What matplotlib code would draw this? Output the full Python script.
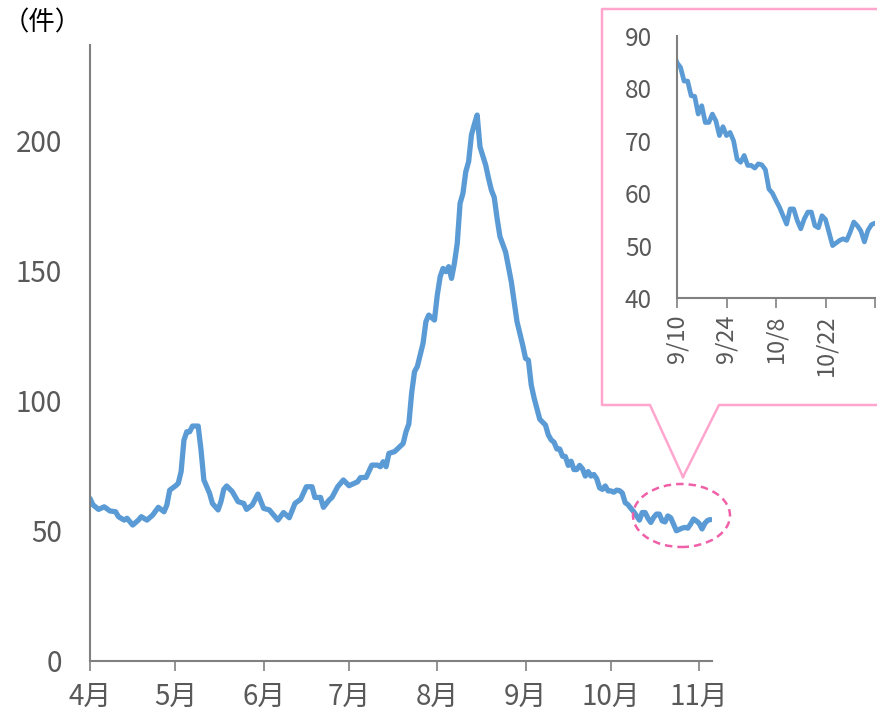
import matplotlib
matplotlib.use("Agg")
import matplotlib.pyplot as plt
from matplotlib.lines import Line2D
from matplotlib.patches import Ellipse

plt.rcParams['font.family'] = ['Noto Sans CJK JP', 'DejaVu Sans']

# days counted from 4/1, daily counts (件)
days = [0, 1, 3, 5, 7, 9, 10, 12, 13, 15, 17, 18, 20, 22, 24, 26, 27, 28, 30, 31,
        32, 33, 34, 35, 36, 38, 39, 40, 42, 43, 45, 46, 47, 48, 50, 52, 54, 55, 57, 59,
        61, 63, 66, 68, 70, 72, 74, 76, 78, 79, 81, 82, 84, 85, 87, 89, 91, 94, 95, 97,
        99, 101, 102, 103, 104, 105, 107, 110, 111, 112, 113, 114, 115, 117, 118, 119, 121, 122, 123, 124,
        125, 126, 127, 128, 129, 130, 131, 132, 133, 134, 135, 136, 137, 139, 140, 141, 142, 143, 144, 145,
        146, 148, 150, 152, 153, 154, 155, 156, 158, 160, 161]
values = [62.4, 60.0, 58.2, 59.2, 57.6, 57.3, 55.4, 54.1, 54.8, 52.2, 54.1, 55.4, 54.1, 56.0, 59.0, 57.3, 59.9, 65.6, 67.2, 68.2,
          72.7, 84.8, 88.0, 88.0, 90.2, 90.2, 81.0, 69.5, 64.4, 60.5, 58.0, 61.2, 65.9, 67.2, 65.0, 61.2, 60.5, 58.2, 59.9, 64.1,
          58.6, 58.0, 54.1, 57.0, 55.0, 60.5, 62.1, 66.9, 66.9, 62.8, 62.8, 59.0, 61.8, 62.8, 66.9, 69.5, 67.3, 68.8, 70.4, 70.5,
          75.2, 75.2, 74.6, 76.5, 74.6, 79.7, 80.4, 83.5, 88.0, 91.0, 103.0, 111.1, 113.1, 122.0, 130.3, 132.8, 130.9, 140.5, 147.5, 150.7,
          149.5, 151.4, 146.9, 152.6, 160.3, 175.7, 179.5, 187.8, 191.7, 202.0, 206.0, 209.6, 197.4, 190.4, 185.3, 180.8, 178.0, 170.0, 163.0, 160.0,
          157.0, 145.6, 130.3, 121.3, 116.2, 115.5, 106.0, 101.0, 92.8, 90.6, 86.8]

# 9/10 (day 162) onward
recent = [84.9, 84.0, 81.4, 81.4, 78.6, 78.5, 75.1, 76.7, 73.5, 73.5,
          75.1, 73.8, 71.0, 72.7, 71.0, 71.6, 70.0, 66.5, 65.9, 67.2,
          65.3, 65.3, 64.8, 65.6, 65.4, 64.5, 60.8, 60.0, 58.6, 57.3,
          55.7, 54.1, 57.0, 57.0, 54.8, 53.2, 55.1, 56.4, 56.4, 53.8,
          53.4, 55.7, 55.0, 52.5, 50.0, 50.5, 51.0, 51.3, 51.0, 52.6,
          54.5, 53.8, 52.8, 50.7, 52.9, 54.0, 54.3]
days = days + [162 + i for i in range(len(recent))]
values = values + recent

month_ticks = [0, 30, 61, 91, 122, 153, 183, 214]
month_labels = ['4月', '5月', '6月', '7月', '8月', '9月', '10月', '11月']
inset_ticks = [162, 176, 190, 204, 218]
inset_labels = ['9/10', '9/24', '10/8', '10/22', '']

line_color = '#5B9BD5'
axis_color = '#808080'
text_color = '#595959'

W, H = 877, 718
fig = plt.figure(figsize=(W / 100, H / 100), dpi=100)

ax = fig.add_axes([90 / W, 57 / H, 622 / W, 616 / H])
ax.plot(days, values, color=line_color, lw=3.8, solid_joinstyle='round', solid_capstyle='round')
ax.set_xlim(0, 218.5)
ax.set_ylim(0, 236.5)
ax.set_yticks([0, 50, 100, 150, 200])
ax.set_xticks(month_ticks)
ax.set_xticklabels(month_labels)
for s in ['top', 'right']:
    ax.spines[s].set_visible(False)
for s in ['left', 'bottom']:
    ax.spines[s].set_color(axis_color)
    ax.spines[s].set_linewidth(1.5)
ax.tick_params(axis='y', length=0, pad=20, labelsize=20, labelcolor=text_color)
ax.tick_params(axis='x', length=7, width=1.2, color=axis_color, pad=8,
               labelsize=20, labelcolor=text_color)

fig.text(3 / W, 1 - 23 / H, '（件）', fontsize=19, color='black', va='center', ha='left')

# inset
ax2 = fig.add_axes([677 / W, (H - 298) / H, 198 / W, 262 / H])
ax2.plot(days, values, color=line_color, lw=3.4, solid_joinstyle='round', solid_capstyle='round')
ax2.set_xlim(162, 218)
ax2.set_ylim(40, 90)
ax2.set_yticks([40, 50, 60, 70, 80, 90])
ax2.set_xticks(inset_ticks)
ax2.set_xticklabels(inset_labels, rotation=90)
for s in ['top', 'right']:
    ax2.spines[s].set_visible(False)
for s in ['left', 'bottom']:
    ax2.spines[s].set_color(axis_color)
    ax2.spines[s].set_linewidth(1.5)
ax2.tick_params(axis='y', length=0, pad=18, labelsize=17.5, labelcolor=text_color)
ax2.tick_params(axis='x', length=7, width=1.2, color=axis_color, pad=5,
                labelsize=17, labelcolor=text_color)

# callout box
def px(x, y):
    return x / W, 1 - y / H

pink = '#FFA6CF'
xs, ys = zip(*[px(*p) for p in [(683, 477), (650, 405), (602, 405), (602, 9), (880, 9)]])
fig.add_artist(Line2D(xs, ys, color=pink, lw=1.8, transform=fig.transFigure))
xs, ys = zip(*[px(*p) for p in [(683, 477), (719, 405), (880, 405)]])
fig.add_artist(Line2D(xs, ys, color=pink, lw=1.8, transform=fig.transFigure))
fig.add_artist(Ellipse(px(681.5, 515.5), 97 / W, 63 / H, transform=fig.transFigure,
                       fill=False, edgecolor='#F060A8', lw=1.8, linestyle=(0, (3, 2))))

fig.savefig('out.png', dpi=100)
